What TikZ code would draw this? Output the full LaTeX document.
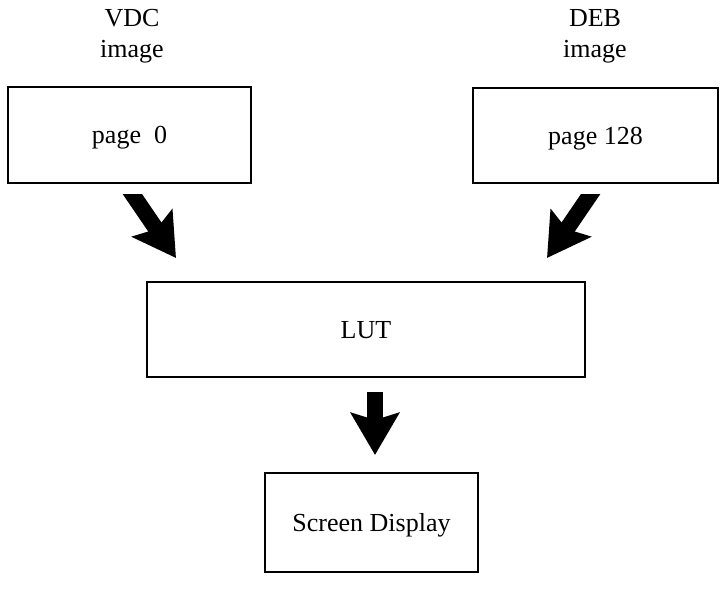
\documentclass[tikz,border=0pt]{standalone}
\usepackage{fontspec}
\setmainfont{Liberation Serif}
\usetikzlibrary{arrows.meta,calc}
\begin{document}
\begin{tikzpicture}[x=1pt,y=1pt,
  font=\fontsize{26}{31}\selectfont,
  box/.style={draw=black, line width=2.6pt, rectangle, inner sep=0pt, text depth=0pt, anchor=center},
  lbl/.style={anchor=base, inner sep=0pt},
  bigarrow/.style={line width=16pt, -{Stealth[length=42pt,width=48pt,inset=7pt]}}
]
\useasboundingbox (0,0) rectangle (720,600);
% titles
\node[lbl] (vdc) at (132,573) {VDC};
\node[lbl] (vdci) at (132,542) {image};
\node[lbl] (deb) at (595,573) {DEB};
\node[lbl] (debi) at (595,542) {image};
% boxes
\node[box, minimum width=243pt, minimum height=96pt] (p0) at (129.5,465) {page\hspace{0.5em}0};
\node[box, minimum width=245pt, minimum height=95pt] (p128) at (595.5,464.5) {page 128};
\node[box, minimum width=438pt, minimum height=95pt] (lut) at (366,270.5) {LUT};
\node[box, minimum width=213pt, minimum height=99pt] (scr) at (371.5,77.5) {Screen Display};
% arrow ends
\coordinate (la) at (133,405);
\coordinate (lb) at (176,342);
\coordinate (ra) at (590,405);
\coordinate (rb) at (547,342);
\coordinate (da) at (375,208);
\coordinate (db) at (375,145);
\begin{scope}
  \clip (0,0) rectangle (720,405);
  \draw[bigarrow] ($(la)!-14pt!(lb)$) -- (lb);
  \draw[bigarrow] ($(ra)!-14pt!(rb)$) -- (rb);
\end{scope}
\draw[bigarrow] (da) -- (db);
\end{tikzpicture}
\end{document}
